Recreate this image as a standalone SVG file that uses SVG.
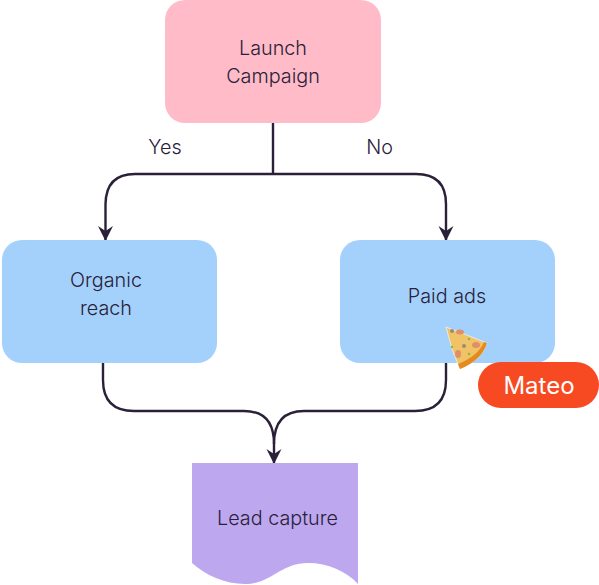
<svg xmlns="http://www.w3.org/2000/svg" width="599" height="585" viewBox="0 0 599 585">
<style>
text{font-family:Inter,"Noto Sans",sans-serif;font-size:19.800px;font-weight:300;fill:#2a2139;text-anchor:middle}
.c{fill:none;stroke:#2a2139;stroke-width:2.400}
</style>
<defs>
<marker id="a" markerUnits="userSpaceOnUse" markerWidth="18" markerHeight="16" refX="16" refY="8" orient="auto">
<path d="M1 0.500L16 8L1 15.500L6 8Z" fill="#2a2139"/>
</marker>
</defs>
<rect width="599" height="585" fill="#fff"/>
<g id="connectors">
<path class="c" d="M273 122V174"/>
<path class="c" d="M273 174H135Q106 174 105.500 204V241" marker-end="url(#a)"/>
<path class="c" d="M273 174H416Q446 174 446 204V241" marker-end="url(#a)"/>
<path class="c" d="M103 362V380Q103 411 134 411H244Q274 411 274 444V464" marker-end="url(#a)"/>
<path class="c" d="M446 362V380Q446 411 415 411H304Q274 411 274 444"/>
</g>
<g id="launch"><rect x="165" y="0" width="216" height="123" rx="20" fill="#ffbcc8"/><text x="273" y="54.500">Launch</text><text x="273" y="82.500">Campaign</text></g>
<g id="organic"><rect x="2" y="240" width="215" height="123" rx="20" fill="#a3d1fb"/><text x="106" y="287">Organic</text><text x="106" y="315">reach</text></g>
<g id="paid"><rect x="340" y="240" width="215" height="123" rx="20" fill="#a3d1fb"/><text x="447" y="303">Paid ads</text></g>
<g id="lead"><path d="M192 563C205 575 225 584 245 584C272 584 280 563 308 563C328 563 346 571 358 584V463H192Z" fill="#bda8f0"/><text x="277.500" y="525">Lead capture</text></g>
<text x="165" y="153.500">Yes</text>
<text x="379.500" y="153.500">No</text>
<g id="pizza">
<path d="M446 327L487 343Q482 360 460 369Q451 350 446 327Z" fill="#f0c466" stroke="#fff" stroke-width="0.600"/>
<path d="M487 343Q482 360 460 369L458 364Q478 356 484 342Z" fill="#e58a1f"/>
<ellipse cx="460" cy="332" rx="4" ry="2.500" fill="#e08f68"/>
<ellipse cx="476" cy="345" rx="4" ry="3" fill="#e08f68"/>
<ellipse cx="458" cy="354" rx="3" ry="4" fill="#e08f68"/>
<circle cx="464" cy="346" r="2" fill="#9a8c7c"/>
<circle cx="452" cy="331" r="2" fill="#9a8c7c"/>
<circle cx="469" cy="339" r="1.200" fill="#8fb53c"/>
<circle cx="469" cy="354" r="1.200" fill="#8fb53c"/>
<circle cx="452" cy="347" r="1.200" fill="#8fb53c"/>
</g>
<g id="mateo"><rect x="478" y="362" width="121" height="46" rx="23" fill="#f74a23"/><text x="539" y="394" style="font-size:24px;font-weight:400;fill:#fff">Mateo</text></g>
</svg>
